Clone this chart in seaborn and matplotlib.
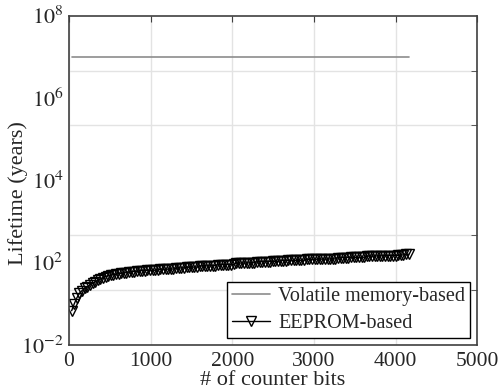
import numpy as np
import seaborn as sns
import matplotlib.pyplot as plt
from matplotlib.ticker import FixedLocator, NullFormatter

# counter bits (every 32 bits) and lifetimes
bits = np.arange(32, 4161, 32)
eeprom_years = [
    6.8, 10, 14, 18, 21, 24, 26, 29, 32, 34, 37, 40, 43, 46, 48, 50, 51, 52.5,
    54, 55, 56, 57.5, 59, 60, 61, 62, 62.5,
    64.5, 64.5, 65, 65, 65.5, 65.5, 66,
    69, 69, 69.5, 69.5, 70, 70,
    74, 74, 74.5, 75,
    77.5, 77.5, 78, 78, 78.5,
    83, 83, 83.5, 83.5, 84, 84, 84.5,
    89, 89, 89.5, 89.5, 90, 90, 90.5,
    97.5, 97.5, 98, 98, 98.5, 99, 99, 99.5,
    105, 105, 105.5, 106, 106, 106.5, 107, 107, 107.5,
    112, 112, 112.5, 113, 113, 113.5, 114, 114, 114.5, 115,
    120, 120, 120.5, 121, 121, 121.5, 122, 122, 122.5, 123, 123, 123.5,
    132, 132, 132.5, 133, 133, 133.5, 134, 134.5, 135, 135, 135.5,
    144, 144, 144.5, 145, 145.5, 146, 146.5, 147, 147.5, 148, 148.5, 149,
    150, 152, 155, 158, 160,
]
volatile_bits = [32, 4160]
volatile_years = [1e7, 1e7]

ytick_vals = [1, 1e2, 1e4, 1e6, 1e8]
ytick_labels = ["$10^{-2}$", "$10^{2}$", "$10^{4}$", "$10^{6}$", "$10^{8}$"]

sns.set_style("white")
plt.rcParams["font.family"] = ["Liberation Serif", "DejaVu Serif"]
plt.rcParams["mathtext.fontset"] = "stix"
plt.rcParams["font.size"] = 15

fig = plt.figure(figsize=(4.98, 3.90), dpi=100)
ax = fig.add_axes([0.1386, 0.1154, 0.8195, 0.8444])
ax.set_yscale("log")

sns.lineplot(x=volatile_bits, y=volatile_years, ax=ax, color="#8c8c8c",
             linewidth=1.2, label="Volatile memory-based")
sns.lineplot(x=bits, y=eeprom_years, ax=ax, color="black", linewidth=1,
             marker="v", markersize=7, markerfacecolor="none",
             markeredgecolor="black", markeredgewidth=1.0,
             label="EEPROM-based")

ax.set_xlim(0, 5000)
ax.set_ylim(1, 1e8)
ax.set_xticks([0, 1000, 2000, 3000, 4000, 5000])
ax.set_yticks(ytick_vals)
ax.set_yticklabels(ytick_labels)
ax.yaxis.set_minor_locator(FixedLocator(10 ** np.linspace(0, 8, 7)))
ax.yaxis.set_minor_formatter(NullFormatter())

ax.grid(True, axis="x", which="major", color="#e3e3e3", linewidth=1)
ax.grid(True, axis="y", which="minor", color="#e3e3e3", linewidth=1)
ax.tick_params(axis="y", which="major", length=0, pad=4, labelsize=16)
ax.tick_params(axis="y", which="minor", direction="in", length=4,
               right=True, color="#404040")
ax.tick_params(axis="x", which="major", direction="in", length=4,
               top=True, color="#404040", labelsize=15.5, pad=5)
for s in ax.spines.values():
    s.set_color("#404040")
    s.set_linewidth(1.2)

ax.set_xlabel("# of counter bits", fontsize=16, labelpad=0)
ax.set_ylabel("Lifetime (years)", fontsize=16)
ax.yaxis.set_label_coords(-0.1, 0.46)

leg = ax.legend(loc="lower right", fontsize=14.5, frameon=True, fancybox=False,
                edgecolor="black", framealpha=1, borderpad=0.25,
                handlelength=1.9, handletextpad=0.4, labelspacing=0.4,
                borderaxespad=0.35)
leg.get_frame().set_linewidth(1)

fig.savefig("out.png", dpi=100)
